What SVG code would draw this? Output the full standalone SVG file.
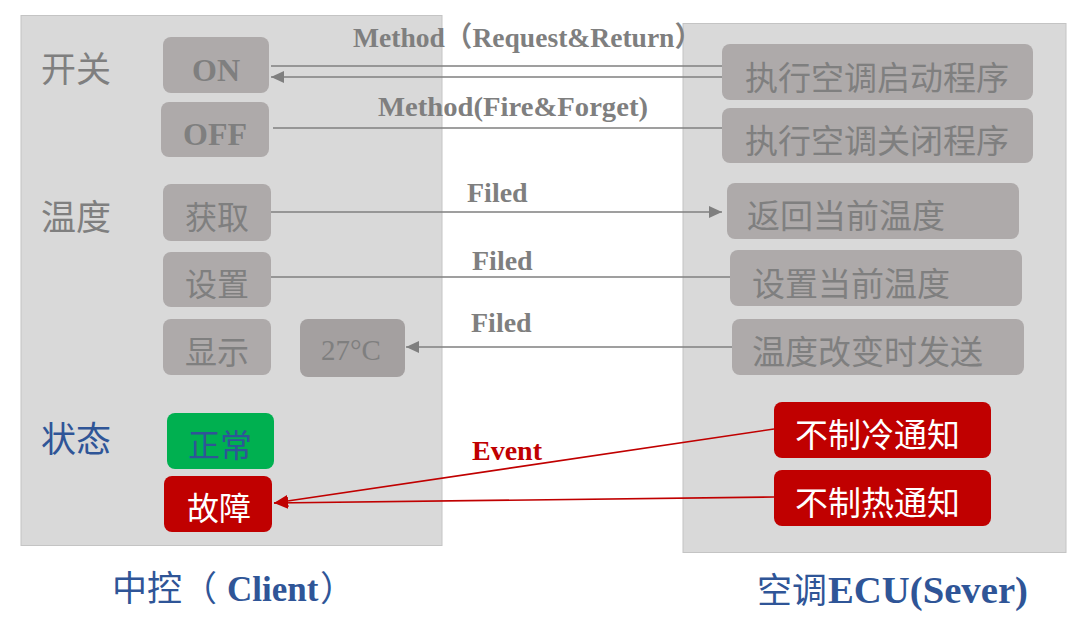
<svg xmlns="http://www.w3.org/2000/svg" width="1080" height="641" viewBox="0 0 1080 641">
<style>
.panel{fill:#d9d9d9;stroke:#c4c4c4;stroke-width:1}
.box{fill:#aeaaaa}
.dbox{fill:#a4a0a0}
.cjk{font-family:'Noto Sans CJK SC',sans-serif}
.g{fill:#7f7f7f}
.en{font-family:'Liberation Serif','Noto Sans CJK SC',serif;font-weight:bold}
.lbl{font-family:'Liberation Serif','Noto Sans CJK SC',serif;font-weight:bold;font-size:28px;fill:#7f7f7f}
.conn{stroke:#7f7f7f;stroke-width:1.6;fill:none}
.red{stroke:#c00000;stroke-width:1.6;fill:none}
.blue{fill:#2f5597}
</style>
<defs>
<marker id="ga" markerUnits="userSpaceOnUse" markerWidth="14" markerHeight="12" refX="13" refY="6" orient="auto"><path d="M0,0 L13,6 L0,12 z" fill="#7f7f7f"/></marker>
<marker id="ra" markerUnits="userSpaceOnUse" markerWidth="15" markerHeight="12" refX="14" refY="6" orient="auto"><path d="M0,0 L14,6 L0,12 z" fill="#c00000"/></marker>
</defs>
<rect width="1080" height="641" fill="#ffffff"/>

<g id="client-panel">
<rect class="panel" x="21" y="15.5" width="421" height="530"/>
</g>
<g id="server-panel">
<rect class="panel" x="683" y="23.5" width="383" height="529"/>
</g>

<g id="label-switch"><text class="cjk g" x="41" y="82" font-size="35">开关</text></g>
<g id="label-temp"><text class="cjk g" x="41" y="230" font-size="35">温度</text></g>
<g id="label-state"><text class="cjk blue" x="41" y="452" font-size="35">状态</text></g>

<g id="node-on"><rect class="box" x="163" y="37" width="106" height="56" rx="8"/><text class="en g" x="216" y="81" font-size="32" text-anchor="middle">ON</text></g>
<g id="node-off"><rect class="box" x="161" y="102" width="108" height="55" rx="8"/><text class="en g" x="215" y="145" font-size="32" text-anchor="middle">OFF</text></g>
<g id="node-get"><rect class="box" x="163" y="184" width="108" height="57" rx="8"/><text class="cjk g" x="217" y="229" font-size="32" text-anchor="middle">获取</text></g>
<g id="node-set"><rect class="box" x="163" y="252" width="108" height="55" rx="8"/><text class="cjk g" x="217" y="296" font-size="32" text-anchor="middle">设置</text></g>
<g id="node-show"><rect class="box" x="163" y="319" width="108" height="56" rx="8"/><text class="cjk g" x="217" y="364" font-size="32" text-anchor="middle">显示</text></g>
<g id="node-27c"><rect class="dbox" x="300" y="319" width="105" height="58" rx="8"/><text x="351" y="360" font-family="'Liberation Serif',serif" font-size="29" fill="#7f7f7f" text-anchor="middle">27°C</text></g>
<g id="node-normal"><rect x="167" y="413" width="107" height="56" rx="8" fill="#00b050"/><text class="cjk blue" x="220" y="457" font-size="32" text-anchor="middle">正常</text></g>
<g id="node-fault"><rect x="164" y="476" width="108" height="56" rx="8" fill="#c00000"/><text class="cjk" x="219" y="520" font-size="32" fill="#ffffff" text-anchor="middle">故障</text></g>

<g id="node-start"><rect class="box" x="722" y="44" width="311" height="56" rx="8"/><text class="cjk g" x="745" y="90" font-size="33">执行空调启动程序</text></g>
<g id="node-stop"><rect class="box" x="722" y="108" width="311" height="55" rx="8"/><text class="cjk g" x="745" y="153" font-size="33">执行空调关闭程序</text></g>
<g id="node-return"><rect class="box" x="727" y="183" width="292" height="56" rx="8"/><text class="cjk g" x="747" y="228" font-size="33">返回当前温度</text></g>
<g id="node-settemp"><rect class="box" x="730" y="250" width="292" height="56" rx="8"/><text class="cjk g" x="752" y="296" font-size="33">设置当前温度</text></g>
<g id="node-change"><rect class="box" x="732" y="319" width="292" height="56" rx="8"/><text class="cjk g" x="752" y="364" font-size="33">温度改变时发送</text></g>
<g id="node-nocool"><rect x="774" y="402" width="217" height="56" rx="8" fill="#c00000"/><text class="cjk" x="795" y="447" font-size="33" fill="#ffffff">不制冷通知</text></g>
<g id="node-noheat"><rect x="774" y="470" width="217" height="56" rx="8" fill="#c00000"/><text class="cjk" x="795" y="515" font-size="33" fill="#ffffff">不制热通知</text></g>

<g id="connectors">
<path class="conn" d="M722,66 H271"/>
<path class="conn" d="M722,77 H271" marker-end="url(#ga)"/>
<path class="conn" d="M273,128 H722"/>
<path class="conn" d="M271,212 H722" marker-end="url(#ga)"/>
<path class="conn" d="M271,277 H730"/>
<path class="conn" d="M732,347 H406" marker-end="url(#ga)"/>
<path class="red" d="M774,429 L274,503" marker-end="url(#ra)"/>
<path class="red" d="M774,497 L274,503" marker-end="url(#ra)"/>
</g>

<g id="connector-labels">
<text class="lbl" x="353" y="47" textLength="349" lengthAdjust="spacingAndGlyphs">Method（Request&amp;Return）</text>
<text class="lbl" x="378" y="116" textLength="270" lengthAdjust="spacingAndGlyphs">Method(Fire&amp;Forget)</text>
<text class="lbl" x="467" y="202">Filed</text>
<text class="lbl" x="472" y="270">Filed</text>
<text class="lbl" x="471" y="332">Filed</text>
<text class="lbl" x="472" y="460" style="fill:#c00000">Event</text>
</g>

<g id="caption-client">
<text class="blue" y="601" font-size="35"><tspan class="cjk" x="112">中控（</tspan><tspan class="en" x="227">Client</tspan><tspan class="cjk" x="320">）</tspan></text>
</g>
<g id="caption-server">
<text class="blue" y="603" font-size="35"><tspan class="cjk" x="757">空调</tspan><tspan class="en" x="828" font-size="38" textLength="200" lengthAdjust="spacingAndGlyphs">ECU(Sever)</tspan></text>
</g>
</svg>
